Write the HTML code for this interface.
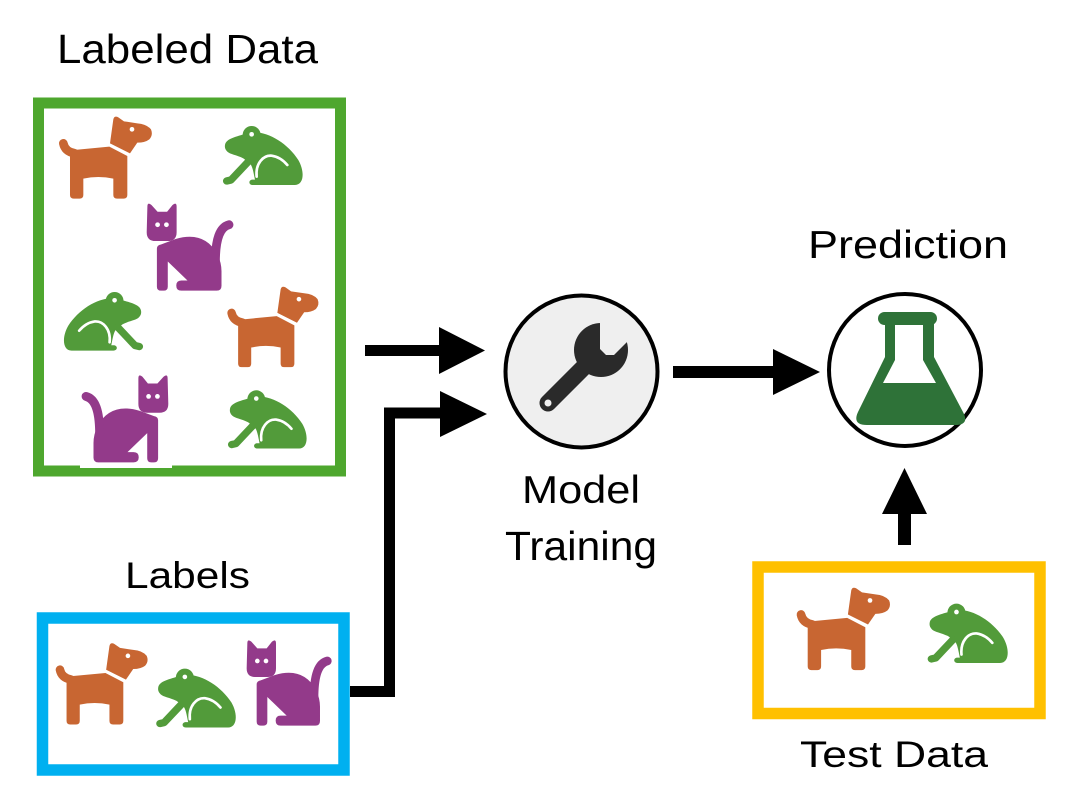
<!DOCTYPE html>
<html>
<head>
<meta charset="utf-8">
<style>
html,body{margin:0;padding:0;background:#fff;}
svg{display:block;}
text{font-family:"Liberation Sans",sans-serif;fill:#000;}
</style>
</head>
<body>
<svg width="1080" height="810" viewBox="0 0 1080 810" xmlns="http://www.w3.org/2000/svg">
<defs>
  <g id="dog">
    <path d="M72 120 L178 110 L232 138 L232 255 Q232 266 221 266 L201 266 Q190 266 190 255 L190 206 Q145 196 100 206 L100 255 Q100 266 89 266 L71 266 Q60 266 60 255 L60 132 Q60 120 72 120 Z" fill="#c86632"/>
    <path d="M40 100 Q45 125 74 130" stroke="#c86632" stroke-width="26" stroke-linecap="round" fill="none"/>
    <path d="M180 100 L190 28 Q193 16 205 22 L222 34 L262 40 Q290 42 303 58 Q310 75 298 88 Q285 98 262 98 L240 130 Z" fill="#c86632"/>
    <path d="M176 102 L238 134" stroke="#fff" stroke-width="6" fill="none"/>
    <circle cx="246" cy="58" r="7" fill="#fff"/>
  </g>
  <g id="frog">
    <circle cx="665" cy="120" r="27" fill="#529b3a"/>
    <path d="M585 150 C588 130 620 125 650 115 C700 100 770 140 805 195 C825 230 822 270 795 270 L668 270 C655 270 655 254 668 254 L675 254 C670 230 668 215 660 205 L640 190 C620 180 600 178 592 170 C585 163 584 157 585 150 Z" fill="#529b3a"/>
    <path d="M655 200 L603 255 L590 258" stroke="#529b3a" stroke-width="22" stroke-linecap="round" stroke-linejoin="round" fill="none"/>
    <path d="M680 245 C676 205 700 180 725 182 C745 185 762 198 772 210" stroke="#fff" stroke-width="8" stroke-linecap="round" fill="none"/>
    <circle cx="665" cy="118" r="7" fill="#fff"/>
  </g>
  <g id="cat">
    <path d="M22 25 Q22 10 34 20 L52 40 L80 40 L96 20 Q108 10 108 25 L108 100 Q108 126 82 126 L46 126 Q20 126 20 100 Z" fill="#933a8a"/>
    <circle cx="52" cy="78" r="7" fill="#fff"/>
    <circle cx="78" cy="78" r="7" fill="#fff"/>
    <path d="M50 148 Q50 138 62 136 L105 120 Q190 95 228 165 Q240 190 240 215 L240 258 Q240 272 226 272 L122 272 Q107 272 107 257 Q107 242 122 242 L140 242 L82 186 L82 260 Q82 272 70 272 L62 272 Q50 272 50 260 Z" fill="#933a8a"/>
    <path d="M222 190 C222 120 235 85 262 78" stroke="#933a8a" stroke-width="26" stroke-linecap="round" fill="none"/>
  </g>
</defs>

<!-- Labels text -->
<text x="57" y="63" font-size="41" textLength="261" lengthAdjust="spacingAndGlyphs">Labeled Data</text>
<text x="125" y="588" font-size="37" textLength="125" lengthAdjust="spacingAndGlyphs">Labels</text>
<text x="808" y="258" font-size="39" textLength="200" lengthAdjust="spacingAndGlyphs">Prediction</text>
<text x="522" y="503" font-size="39" textLength="118" lengthAdjust="spacingAndGlyphs">Model</text>
<text x="505" y="560" font-size="41" textLength="152" lengthAdjust="spacingAndGlyphs">Training</text>
<text x="800" y="767" font-size="37" textLength="188" lengthAdjust="spacingAndGlyphs">Test Data</text>

<!-- Green labeled data box -->
<rect x="38.5" y="103" width="302" height="368" fill="#fff" stroke="#4ea72e" stroke-width="11"/>
<use href="#dog" transform="translate(50,110) scale(0.3333)"/>
<use href="#frog" transform="translate(30,95) scale(0.3333)"/>
<use href="#cat" transform="translate(139.9,198.2) scale(0.34)"/>
<use href="#frog" transform="translate(334.7,261.2) scale(-0.331,0.331)"/>
<use href="#dog" transform="translate(218.5,280.2) scale(0.327)"/>
<use href="#cat" transform="translate(175.1,369.9) scale(-0.34,0.34)"/>
<use href="#frog" transform="translate(37.5,359.7) scale(0.329)"/>
<rect x="80" y="464" width="92" height="4" fill="#fff"/>

<!-- Blue labels box -->
<rect x="42.5" y="618" width="301.5" height="152" fill="#fff" stroke="#00b0f0" stroke-width="11.5"/>
<use href="#dog" transform="translate(46.75,636.7) scale(0.33)"/>
<use href="#frog" transform="translate(-36.6,637.6) scale(0.333)"/>
<use href="#cat" transform="translate(240,635) scale(0.3333)"/>

<!-- Yellow test data box -->
<rect x="758" y="567" width="282" height="146.5" fill="#fff" stroke="#ffc000" stroke-width="11.5"/>
<use href="#dog" transform="translate(787.6,581) scale(0.335)"/>
<use href="#frog" transform="translate(733.7,572.5) scale(0.335)"/>

<!-- Arrows -->
<rect x="365" y="345" width="76" height="11" fill="#000"/>
<polygon points="439,327 485,350.5 439,374" fill="#000"/>
<path d="M350 691.5 H389.5 V413 H442" stroke="#000" stroke-width="11" fill="none" stroke-linejoin="miter"/>
<polygon points="440,391 487,414 440,437" fill="#000"/>
<rect x="673" y="366" width="102" height="12" fill="#000"/>
<polygon points="773,349 820,372 773,395" fill="#000"/>
<rect x="898" y="512" width="13" height="33" fill="#000"/>
<polygon points="882,514 904.5,468 927,514" fill="#000"/>

<!-- Model training circle -->
<circle cx="581.5" cy="371.5" r="76" fill="#efefef" stroke="#000" stroke-width="4"/>
<line x1="548" y1="403" x2="596" y2="355" stroke="#2a2a2a" stroke-width="17" stroke-linecap="round"/>
<circle cx="601" cy="350" r="27" fill="#2a2a2a"/>
<polygon points="600,320 600,349 606,355 614,355 630,339 630,320" fill="#efefef"/>
<circle cx="548" cy="403" r="3.5" fill="#efefef"/>

<!-- Prediction circle -->
<circle cx="905" cy="370" r="76" fill="#fff" stroke="#000" stroke-width="4"/>
<rect x="878" y="312" width="59" height="13" rx="6.5" fill="#2e7238"/>
<path d="M885 322 L885 357 L858 412 Q852 425 867 425 L955 425 Q970 425 963 412 L934 357 L934 322 Z" fill="#2e7238"/>
<polygon points="895,325 923,325 923,360 936,383 883,383 895,360" fill="#fff"/>
</svg>
</body>
</html>
